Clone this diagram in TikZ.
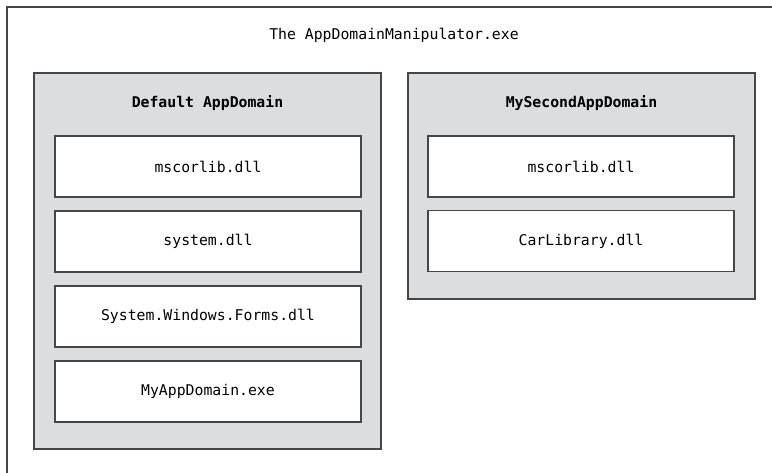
\documentclass[tikz,border=0pt]{standalone}
\usepackage{fontspec}
\setmonofont{DejaVu Sans Mono}
\usetikzlibrary{positioning}

\definecolor{domaingray}{RGB}{220,221,223}
\definecolor{edgegray}{RGB}{70,70,70}

\tikzset{
  frameline/.style={draw=edgegray, line width=1.2pt},
  domainbox/.style={draw=edgegray, line width=1.4pt, fill=domaingray, minimum width=347pt, inner sep=0pt},
  dllbox/.style={draw=edgegray, line width=1.2pt, fill=white, minimum width=306pt, minimum height=61pt, inner sep=0pt, font=\ttfamily\fontsize{14.8}{17}\selectfont},
  caption/.style={font=\ttfamily\fontsize{14.8}{17}\selectfont, inner sep=0pt}
}

\begin{document}
\begin{tikzpicture}[x=1pt,y=-1pt]
  \useasboundingbox (0,0) rectangle (772,473);
  % the process (only top and left edges show)
  \coordinate (frameBL) at (7,473);
  \coordinate (frameTL) at (7,7);
  \coordinate (frameTR) at (772,7);
  \draw[frameline] (frameBL) -- (frameTL) -- (frameTR);
  \node[caption] (proc) at (394,35) {The AppDomainManipulator.exe};

  % default domain
  \node[domainbox, minimum height=376pt] (defdom) at (207.5,261) {};
  \node[caption, font=\ttfamily\bfseries\fontsize{14.8}{17}\selectfont] (deftitle) at (207.5,103) {Default AppDomain};
  \node[dllbox] (defcorlib) at (208,166.5) {mscorlib.dll};
  \node[dllbox] (defsystem) at (208,241.5) {system.dll};
  \node[dllbox] (defforms) at (208,316.5) {System.Windows.Forms.dll};
  \node[dllbox] (defexe) at (208,391.5) {MyAppDomain.exe};

  % second domain
  \node[domainbox, minimum height=226pt] (secdom) at (581.5,186) {};
  \node[caption, font=\ttfamily\bfseries\fontsize{14.8}{17}\selectfont] (sectitle) at (581.5,103) {MySecondAppDomain};
  \node[dllbox] (seccorlib) at (581,166.5) {mscorlib.dll};
  \node[dllbox] (seccar) at (581,241) {CarLibrary.dll};
\end{tikzpicture}
\end{document}
